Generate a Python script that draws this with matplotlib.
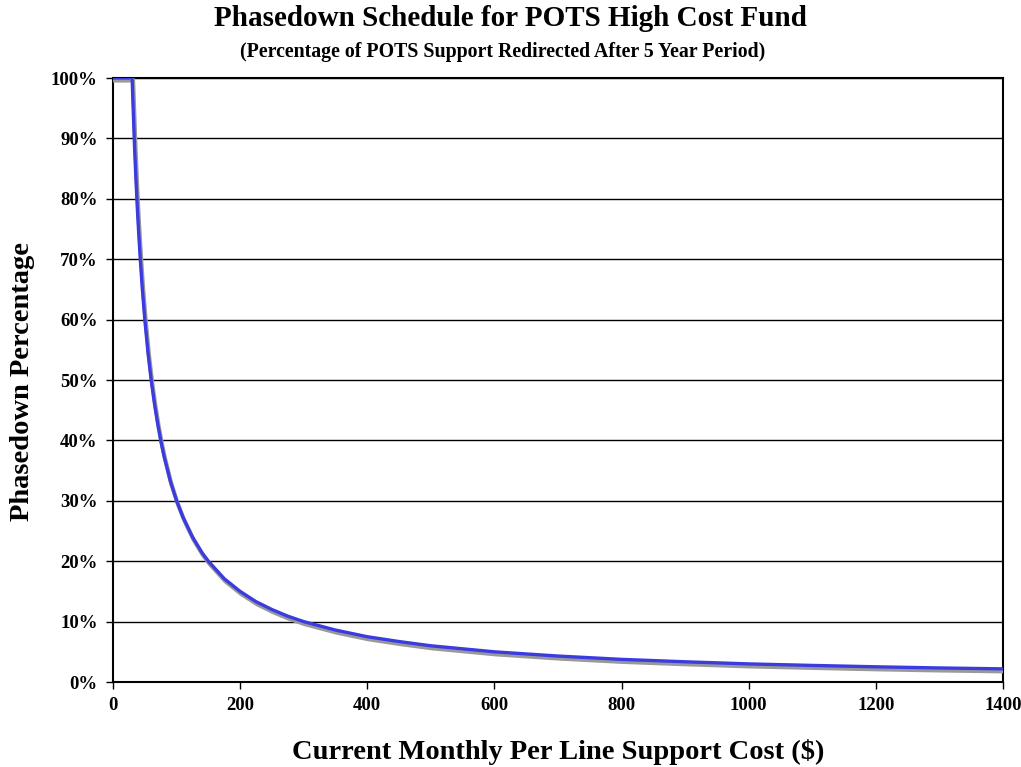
import matplotlib
matplotlib.use("Agg")
import matplotlib.pyplot as plt
import matplotlib.transforms as mtransforms
from matplotlib.ticker import FuncFormatter, MultipleLocator

cost = [0, 10, 20, 25, 28, 30, 32, 34, 36, 38, 40, 43, 46, 50, 55, 60, 65, 70, 75, 80,
        90, 100, 110, 125, 140, 150, 175, 200, 225, 250, 275, 300, 350, 400, 450, 500,
        600, 700, 800, 900, 1000, 1100, 1200, 1300, 1400]
phasedown = [1.0, 1.0, 1.0, 1.0, 1.006, 1.0, 0.94, 0.882, 0.833, 0.789, 0.75, 0.698,
             0.652, 0.60, 0.545, 0.50, 0.462, 0.429, 0.40, 0.375, 0.333, 0.30, 0.273,
             0.24, 0.214, 0.20, 0.171, 0.15, 0.133, 0.12, 0.109, 0.10, 0.086, 0.075,
             0.067, 0.06, 0.05, 0.043, 0.0375, 0.0335, 0.030, 0.0275, 0.0252, 0.0233,
             0.0218]

serif = ["Liberation Serif", "DejaVu Serif"]
plt.rcParams["font.family"] = serif
plt.rcParams["font.weight"] = "bold"

fig = plt.figure(figsize=(10.21, 7.67), dpi=100)
ax = fig.add_axes([0.1107, 0.1108, 0.8717, 0.7875])

shadow = mtransforms.offset_copy(ax.transData, fig=fig, x=1, y=-2.5, units="dots")
ax.plot(cost, phasedown, color="#999999", lw=3, transform=shadow, zorder=3)
ax.plot(cost, phasedown, color="#3b3be0", lw=2.4, zorder=4)

ax.set_xlim(0, 1400)
ax.set_ylim(0, 1.0)
ax.xaxis.set_major_locator(MultipleLocator(200))
ax.yaxis.set_major_locator(MultipleLocator(0.1))
ax.yaxis.set_major_formatter(FuncFormatter(lambda v, p: f"{round(v*100)}%"))
ax.grid(axis="y", color="black", lw=1.0)
ax.set_axisbelow(True)
for s in ax.spines.values():
    s.set_linewidth(1.5)
    s.set_color("black")
ax.tick_params(axis="both", direction="out", length=5, width=1, labelsize=13.5, pad=6)
for lab in ax.get_xticklabels() + ax.get_yticklabels():
    lab.set_fontweight("bold")

fig.text(0.5, 0.976, "Phasedown Schedule for POTS High Cost Fund", ha="center", va="center",
         fontsize=21, fontweight="bold")
fig.text(0.492, 0.932, "(Percentage of POTS Support Redirected After 5 Year Period)", ha="center",
         va="center", fontsize=14.3, fontweight="bold")
fig.text(0.547, 0.019, "Current Monthly Per Line Support Cost ($)", ha="center", va="center",
         fontsize=20.5, fontweight="bold")
fig.text(0.022, 0.503, "Phasedown Percentage", ha="center", va="center", rotation=90,
         fontsize=20.5, fontweight="bold")

fig.savefig("out.png", dpi=100)
